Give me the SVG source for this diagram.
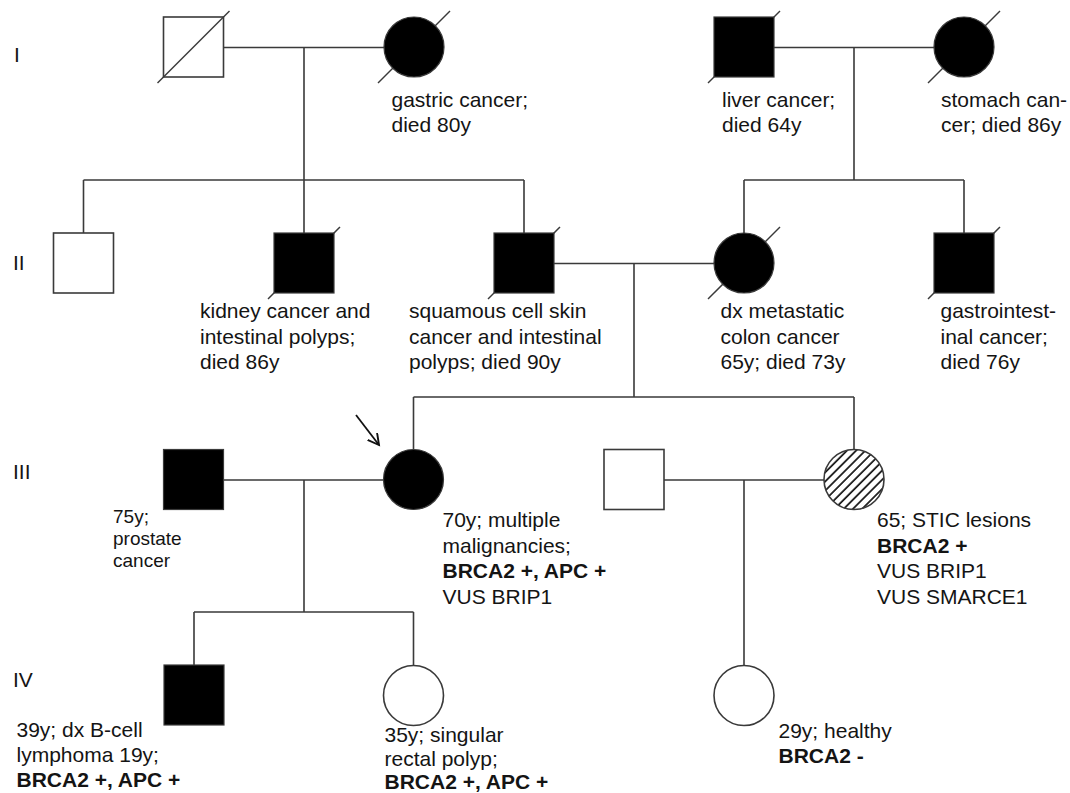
<svg xmlns="http://www.w3.org/2000/svg" width="1070" height="793" viewBox="0 0 1070 793">
<defs>
<pattern id="hatch" patternUnits="userSpaceOnUse" width="6.5" height="6.5" patternTransform="rotate(45)">
<line x1="1" y1="0" x2="1" y2="6.5" stroke="#111" stroke-width="1.7"/>
</pattern>
<marker id="arr" markerWidth="14" markerHeight="14" refX="11" refY="6" orient="auto" markerUnits="userSpaceOnUse">
<path d="M0,0 L11,6 L0,12" fill="none" stroke="#111" stroke-width="1.9"/>
</marker>
</defs>
<style>
.l{stroke:#3a3a3a;stroke-width:1.6;fill:none}
.open{fill:#fff;stroke:#3a3a3a;stroke-width:1.6}
.aff{fill:#000;stroke:#3a3a3a;stroke-width:1.2}
.sl{stroke:#3a3a3a;stroke-width:1.5}
text{font-family:"Liberation Sans",Arial,sans-serif;font-size:21px;fill:#141414}
.b{font-weight:bold}
.sm{font-size:19px}
</style>
<rect width="1070" height="793" fill="#fff"/>
<g id="gen-labels">
<text x="14" y="62">I</text>
<text x="13" y="270">II</text>
<text x="13" y="479">III</text>
<text x="13" y="687">IV</text>
</g>
<g id="connectors">
<path class="l" d="M223.5,47.5H384 M304,47.5V180 M83.5,180H524 M83.5,180V233 M304,180V233 M524,180V233"/>
<path class="l" d="M774,47.5H934 M854,47.5V180 M744,180H964 M744,180V233 M964,180V233"/>
<path class="l" d="M554,263.5H714 M634,263.5V397 M413.5,397H854 M413.5,397V449.5 M854,397V449.5"/>
<path class="l" d="M223.5,480H383.5 M304,480V612 M194,612H413.5 M194,612V665 M413.5,612V665"/>
<path class="l" d="M664,480H824 M744,480V665"/>
<line x1="356" y1="415" x2="379" y2="445" stroke="#111" stroke-width="1.8" marker-end="url(#arr)"/>
</g>
<g id="I-1"><rect class="open" x="163.5" y="17" width="60" height="60"/><line class="sl" x1="157.5" y1="83" x2="229.5" y2="11"/></g>
<g id="I-2"><line class="sl" x1="378" y1="83" x2="450" y2="11"/><circle class="aff" cx="414" cy="47" r="30"/>
<text x="391.5" y="107">gastric cancer;</text><text x="391.5" y="132">died 80y</text></g>
<g id="I-3"><line class="sl" x1="708" y1="83" x2="780" y2="11"/><rect class="aff" x="714" y="17" width="60" height="60"/>
<text x="722" y="107">liver cancer;</text><text x="722" y="132">died 64y</text></g>
<g id="I-4"><line class="sl" x1="928" y1="83" x2="1000" y2="11"/><circle class="aff" cx="964" cy="47" r="30"/>
<text x="941" y="107">stomach can-</text><text x="941" y="132">cer; died 86y</text></g>
<g id="II-1"><rect class="open" x="53.5" y="233" width="60" height="60"/></g>
<g id="II-2"><line class="sl" x1="268" y1="299" x2="340" y2="227"/><rect class="aff" x="274" y="233" width="60" height="60"/>
<text x="200" y="318">kidney cancer and</text><text x="200" y="343.5">intestinal polyps;</text><text x="200" y="369">died 86y</text></g>
<g id="II-3"><line class="sl" x1="488" y1="299" x2="560" y2="227"/><rect class="aff" x="494" y="233" width="60" height="60"/>
<text x="409" y="318">squamous cell skin</text><text x="409" y="343.5">cancer and intestinal</text><text x="409" y="369">polyps; died 90y</text></g>
<g id="II-4"><line class="sl" x1="708" y1="299" x2="780" y2="227"/><circle class="aff" cx="744" cy="263" r="30"/>
<text x="720.5" y="318">dx metastatic</text><text x="720.5" y="343.5">colon cancer</text><text x="720.5" y="369">65y; died 73y</text></g>
<g id="II-5"><line class="sl" x1="928" y1="299" x2="1000" y2="227"/><rect class="aff" x="934" y="233" width="60" height="60"/>
<text x="940.5" y="318">gastrointest-</text><text x="940.5" y="343.5">inal cancer;</text><text x="940.5" y="369">died 76y</text></g>
<g id="III-1"><rect class="aff" x="163.5" y="449.5" width="60" height="60"/>
<text class="sm" x="113" y="523">75y;</text><text class="sm" x="113" y="545">prostate</text><text class="sm" x="113" y="567">cancer</text></g>
<g id="III-2"><circle class="aff" cx="413.5" cy="479.5" r="30"/>
<text x="442.5" y="527">70y; multiple</text><text x="442.5" y="552.5">malignancies;</text><text class="b" x="442.5" y="578">BRCA2 +, APC +</text><text x="442.5" y="603.5">VUS BRIP1</text></g>
<g id="III-3"><rect class="open" x="604" y="449.5" width="60" height="60"/></g>
<g id="III-4"><circle cx="854" cy="479.5" r="30" fill="#fff"/><circle cx="854" cy="479.5" r="30" fill="url(#hatch)" stroke="#3a3a3a" stroke-width="1.6"/>
<text x="877" y="527">65; STIC lesions</text><text class="b" x="877" y="552.5">BRCA2 +</text><text x="877" y="578">VUS BRIP1</text><text x="877" y="603.5">VUS SMARCE1</text></g>
<g id="IV-1"><rect class="aff" x="164" y="665" width="60" height="60"/>
<text x="16.5" y="737">39y; dx B-cell</text><text x="16.5" y="762">lymphoma 19y;</text><text class="b" x="16.5" y="787">BRCA2 +, APC +</text></g>
<g id="IV-2"><circle class="open" cx="413.5" cy="695.5" r="30"/>
<text x="384.5" y="742">35y; singular</text><text x="384.5" y="765.5">rectal polyp;</text><text class="b" x="384.5" y="789">BRCA2 +, APC +</text></g>
<g id="IV-3"><circle class="open" cx="744" cy="695.5" r="30"/>
<text x="778.5" y="738">29y; healthy</text><text class="b" x="778.5" y="763">BRCA2 -</text></g>
</svg>
